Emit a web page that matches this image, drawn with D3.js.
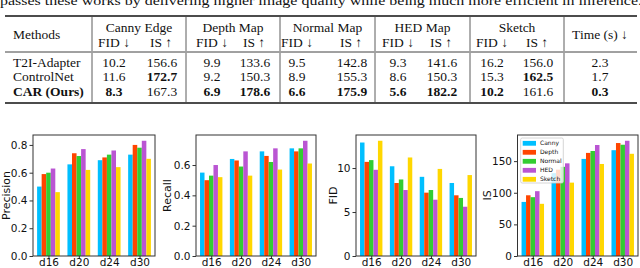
<!DOCTYPE html>
<html><head><meta charset="utf-8">
<script src="https://cdn.jsdelivr.net/npm/d3@7/dist/d3.min.js"></script>
<style>body{margin:0;background:#fff}svg{display:block}</style>
</head><body>
<svg id="c" width="640" height="268"></svg>
<script>
// ---------- DATA ----------
const caption = "passes these works by delivering higher image quality while being much more efficient in inference.";
const methods = ["T2I-Adapter", "ControlNet", "CAR (Ours)"];
const taskNames = ["Canny Edge", "Depth Map", "Normal Map", "HED Map", "Sketch"];
const tableFID = [[10.2, 9.9, 9.5, 9.3, 16.2], [11.6, 9.2, 8.9, 8.6, 15.3], [8.3, 6.9, 6.6, 5.6, 10.2]];
const tableIS = [[156.6, 133.6, 142.8, 141.6, 156.0], [172.7, 150.3, 155.3, 150.3, 162.5], [167.3, 178.6, 175.9, 182.2, 161.6]];
const tableTime = [2.3, 1.7, 0.3];
const boldFID = [[0,0,0,0,0],[0,0,0,0,0],[1,1,1,1,1]];
const boldIS = [[0,0,0,0,0],[1,0,0,0,1],[0,1,1,1,0]];
const boldTime = [0,0,1];

const groups = ["d16", "d20", "d24", "d30"];
const conditions = ["Canny", "Depth", "Normal", "HED", "Sketch"];
const colors = ["#00BFFF", "#FF4500", "#32CD32", "#BA55D3", "#FFD700"];
// rows = conditions, cols = groups
const precision = [[0.50,0.66,0.69,0.73],[0.59,0.74,0.71,0.80],[0.60,0.72,0.73,0.78],[0.63,0.77,0.76,0.83],[0.46,0.62,0.64,0.70]];
const recall = [[0.55,0.64,0.69,0.71],[0.50,0.63,0.66,0.69],[0.53,0.59,0.62,0.71],[0.60,0.69,0.71,0.76],[0.52,0.53,0.57,0.61]];
const fid = [[12.9,10.2,9.0,8.3],[10.7,8.3,7.2,6.9],[10.9,8.7,7.5,6.6],[9.8,7.5,6.4,5.6],[13.1,11.2,9.9,9.2]];
const is = [[85.5,131,153.5,167.3],[96,136.5,163,178.6],[93,141,166,175.9],[102.5,146.5,175.5,182.2],[82.5,116,145.5,161.6]];
const precisionTicks = [0, 0.2, 0.4, 0.6, 0.8];
const recallTicks = [0, 0.2, 0.4, 0.6];
const fidTicks = [0, 5, 10];
const isTicks = [0, 50, 100, 150];

// ---------- DRAW ----------
const svg = d3.select("#c");
const serif = "'Liberation Serif','Times New Roman',serif";
const sans = "'DejaVu Sans',sans-serif";

const cap = svg.append("text").attr("x", 0).attr("y", 5).attr("font-family", serif)
  .attr("font-size", 13.5).attr("fill", "#111").text(caption)
  .attr("textLength", 642).attr("lengthAdjust", "spacingAndGlyphs");

// table
const T = svg.append("g").attr("font-family", serif).attr("font-size", 13.5).attr("fill", "#111");
const ruleX0 = 5, ruleX1 = 637;
T.append("line").attr("x1", ruleX0).attr("x2", ruleX1).attr("y1", 16).attr("y2", 16).attr("stroke", "#111").attr("stroke-width", 1.3);
T.append("line").attr("x1", ruleX0).attr("x2", ruleX1).attr("y1", 52).attr("y2", 52).attr("stroke", "#111").attr("stroke-width", 0.8);
T.append("line").attr("x1", ruleX0).attr("x2", ruleX1).attr("y1", 103).attr("y2", 103).attr("stroke", "#111").attr("stroke-width", 1.3);
const vx = [92, 186, 280, 375, 470, 564];
vx.forEach(x => {
  T.append("line").attr("x1", x).attr("x2", x).attr("y1", 17).attr("y2", 51).attr("stroke", "#333").attr("stroke-width", 0.8);
  T.append("line").attr("x1", x).attr("x2", x).attr("y1", 53).attr("y2", 102).attr("stroke", "#333").attr("stroke-width", 0.8);
});
T.append("text").attr("x", 13).attr("y", 39).text("Methods");
const fidX = [114, 212, 297, 398, 492];
const isX = [162, 255, 352, 442, 538];
taskNames.forEach((t, i) => {
  T.append("text").attr("x", (vx[i] + vx[i+1]) / 2).attr("y", 31.5).attr("text-anchor", "middle").text(t);
  T.append("text").attr("x", fidX[i]).attr("y", 46.5).attr("text-anchor", "middle").text("FID \u2193");
  T.append("text").attr("x", isX[i] - 1).attr("y", 46.5).attr("text-anchor", "middle").text("IS \u2191");
});
T.append("text").attr("x", 600).attr("y", 39).attr("text-anchor", "middle").text("Time (s) \u2193");
const rowY = [66.5, 81, 95.5];
methods.forEach((m, r) => {
  T.append("text").attr("x", 13).attr("y", rowY[r]).attr("font-weight", r === 2 ? "bold" : null).text(m);
  tableFID[r].forEach((v, i) => {
    T.append("text").attr("x", fidX[i]).attr("y", rowY[r]).attr("text-anchor", "middle")
      .attr("font-weight", boldFID[r][i] ? "bold" : null).text(v.toFixed(1));
    T.append("text").attr("x", isX[i]).attr("y", rowY[r]).attr("text-anchor", "middle")
      .attr("font-weight", boldIS[r][i] ? "bold" : null).text(tableIS[r][i].toFixed(1));
  });
  T.append("text").attr("x", 600).attr("y", rowY[r]).attr("text-anchor", "middle")
    .attr("font-weight", boldTime[r] ? "bold" : null).text(tableTime[r].toFixed(1));
});

// charts
const plotTop = 135, plotBottom = 256;
const panels = [
  {data: precision, ticks: precisionTicks, label: "Precision", left: 33, right: 155, lx: 6, fmt: d3.format(".1f")},
  {data: recall, ticks: recallTicks, label: "Recall", left: 196, right: 316, lx: 167, fmt: d3.format(".1f")},
  {data: fid, ticks: fidTicks, label: "FID", left: 356, right: 476, lx: 333, fmt: d3.format("d")},
  {data: is, ticks: isTicks, label: "IS", left: 517.5, right: 638, lx: 487, fmt: d3.format("d")}
];
const bw = 0.15;
panels.forEach((p, pi) => {
  const g = svg.append("g");
  const maxV = d3.max(p.data.flat());
  const y = d3.scaleLinear().domain([0, maxV * 1.05]).range([plotBottom, plotTop]);
  const x = d3.scaleLinear().domain([-0.51, 3.51]).range([p.left, p.right]);
  p.data.forEach((row, ci) => {
    g.selectAll(null).data(row).enter().append("rect")
      .attr("x", (d, gi) => x(gi + (ci - 2) * bw - bw / 2))
      .attr("width", x(bw) - x(0))
      .attr("y", d => y(d))
      .attr("height", d => y(0) - y(d))
      .attr("fill", colors[ci]);
  });
  const ya = g.append("g").attr("transform", `translate(${p.left},0)`)
    .call(d3.axisLeft(y).tickValues(p.ticks).tickFormat(p.fmt).tickSize(3.5).tickPadding(2));
  const xa = g.append("g").attr("transform", `translate(0,${plotBottom})`)
    .call(d3.axisBottom(x).tickValues([0,1,2,3]).tickFormat(i => groups[i]).tickSize(3).tickPadding(-0.8));
  [ya, xa].forEach(a => {
    a.select(".domain").remove();
    a.selectAll("line").attr("stroke", "#333");
    a.selectAll("text").attr("font-family", sans).attr("font-size", 10.5).attr("fill", "#111");
  });
  g.append("rect").attr("x", p.left).attr("y", plotTop).attr("width", p.right - p.left).attr("height", plotBottom - plotTop)
    .attr("fill", "none").attr("stroke", "#333").attr("stroke-width", 1);
  g.append("text").attr("transform", `translate(${p.lx + 4},${(plotTop + plotBottom) / 2}) rotate(-90)`)
    .attr("text-anchor", "middle").attr("font-family", sans).attr("font-size", 11).attr("fill", "#111").text(p.label);
  if (pi === 3) {
    const L = svg.append("g");
    L.append("rect").attr("x", 520.7).attr("y", 138).attr("width", 42.6).attr("height", 45).attr("rx", 1.5)
      .attr("fill", "#fff").attr("fill-opacity", 0.8).attr("stroke", "#ccc").attr("stroke-width", 0.8);
    conditions.forEach((c, i) => {
      const cy = 143.3 + 9 * i;
      L.append("rect").attr("x", 522.7).attr("y", cy - 2.4).attr("width", 13.3).attr("height", 4.8).attr("fill", colors[i]);
      L.append("text").attr("x", 540).attr("y", cy + 2.1).attr("font-family", sans).attr("font-size", 6).attr("fill", "#111").text(c);
    });
  }
});
</script>
</body></html>
